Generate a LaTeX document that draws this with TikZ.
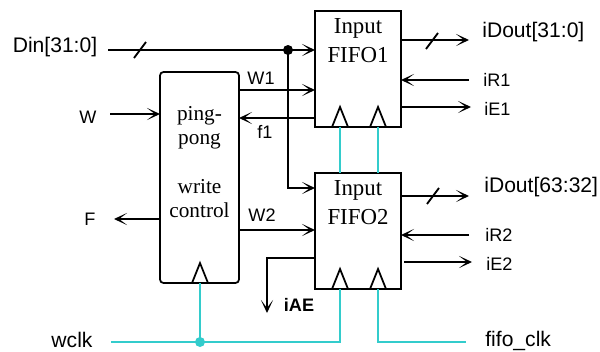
\documentclass[tikz,border=0pt]{standalone}
\usepackage{fontspec}
\setmainfont{Liberation Serif}
\setsansfont{Liberation Sans}
\usetikzlibrary{arrows.meta, calc}
\definecolor{clkteal}{RGB}{51, 204, 204}
\tikzset{
	sig/.style={line width=1.05pt},
	sigarrow/.style={sig,-{Stealth[length=7.5pt,width=7pt,inset=4.6pt]}},
	clkline/.style={line width=1.05pt,draw=clkteal},
	fifobox/.style={draw,line width=1pt,minimum width=17.2mm,minimum height=23.2mm,inner sep=0pt,outer sep=0pt},
	ctrlbox/.style={draw,line width=1pt,rounded corners=2pt,minimum width=15.8mm,minimum height=42.2mm,inner sep=0pt,outer sep=0pt},
	bigtext/.style={font=\fontsize{13}{16.5}\selectfont,align=center,inner sep=0pt},
	ctrltext/.style={font=\fontsize{12.1}{13.7}\selectfont,align=center,inner sep=0pt},
	portbig/.style={font=\sffamily\fontsize{12}{14}\selectfont,inner sep=0pt},
	portsmall/.style={font=\sffamily\fontsize{10.3}{12}\selectfont,inner sep=0pt}
}

\begin{document}
\begin{tikzpicture}[x=0.2mm,y=-0.2mm]
	\useasboundingbox (0,0) rectangle (600,351);
	% blocks
	\node[fifobox] (fifoa) at (358,69) {};
	\node[fifobox] (fifob) at (358,231) {};
	\node[ctrlbox] (ctrl) at (199.5,177.5) {};
	\node[bigtext] (fifoatext) at (358,41) {Input\\FIFO1};
	\node[bigtext] (fifobtext) at (358,203) {Input\\FIFO2};
	\node[ctrltext] (ctrltext) at (199.5,162) {ping-\\pong\\[13.7pt]write\\control};
	% port labels
	\node[portbig] (din) at (55,47) {Din[31:0]};
	\node[portsmall] (w) at (88,117) {W};
	\node[portsmall] (f) at (90,219) {F};
	\node[portbig] (wclk) at (72,340) {wclk};
	\node[portsmall] (wa) at (261,78) {W1};
	\node[portsmall] (fa) at (265,132) {f1};
	\node[portsmall] (wb) at (262,215) {W2};
	\node[portsmall,font=\sffamily\bfseries\fontsize{10.3}{12}\selectfont] (iae) at (299,305) {iAE};
	\node[portbig,anchor=west] (douta) at (482,32) {iDout[31:0]};
	\node[portsmall,anchor=west] (ira) at (483,80) {iR1};
	\node[portsmall,anchor=west] (iea) at (484,109) {iE1};
	\node[portbig,anchor=west] (doutb) at (484,187) {iDout[63:32]};
	\node[portsmall,anchor=west] (irb) at (485,235) {iR2};
	\node[portsmall,anchor=west] (ieb) at (486,264) {iE2};
	\node[portbig,anchor=west] (fifoclk) at (485,341) {fifo\_clk};
	% free ends
	\coordinate (dinend) at (108,50);
	\coordinate (dinjoin) at (288,50);
	\coordinate (wend) at (110,114);
	\coordinate (fend) at (114,219);
	\coordinate (waport) at (239,90);
	\coordinate (faport) at (239,118);
	\coordinate (dinb) at (288,188);
	\coordinate (wbport) at (239,230);
	\coordinate (iaeport) at (315,258);
	\coordinate (iaeend) at (267,313);
	\coordinate (outa) at (469,40);
	\coordinate (rda) at (469,80);
	\coordinate (ena) at (471,107);
	\coordinate (outb) at (469,196);
	\coordinate (rdb) at (469,235);
	\coordinate (enb) at (472,262);
	\coordinate (clkend) at (111,342);
	\coordinate (clkjoin) at (200,342);
	\coordinate (ckend) at (466,342);
	\coordinate (ctrlck) at (200,283);
	\coordinate (fifoaw) at (340,127);
	\coordinate (fifoar) at (378,127);
	\coordinate (fifobw) at (340,289);
	\coordinate (fifobr) at (378,289);
	% clocks
	\draw[clkline] (clkend) -- (clkjoin -| fifobw) -- (fifobw);
	\draw[clkline] (clkjoin) -- (ctrlck);
	\draw[clkline] (fifoaw) -- (fifobw |- fifob.north);
	\draw[clkline] (fifoar) -- (fifobr |- fifob.north);
	\draw[clkline] (fifobr) -- (fifobr |- ckend) -- (ckend);
	\fill[clkteal] (clkjoin) circle (5);
	% left side
	\draw[sigarrow] (dinend) -- (fifoa.west |- dinend);
	\draw[sigarrow] (dinjoin) -- (dinb) -- (fifob.west |- dinb);
	\fill (dinjoin) circle (5);
	\draw[sigarrow] (wend) -- (ctrl.west |- wend);
	\draw[sigarrow] (ctrl.west |- fend) -- (fend);
	\draw[sigarrow] (waport) -- (fifoa.west |- waport);
	\draw[sigarrow] (fifoa.west |- faport) -- (faport);
	\draw[sigarrow] (wbport) -- (fifob.west |- wbport);
	\draw[sigarrow] (iaeport) -- (iaeend |- iaeport) -- (iaeend);
	% right side
	\draw[sigarrow] (fifoa.east |- outa) -- (outa);
	\draw[sigarrow] (rda) -- (fifoa.east |- rda);
	\draw[sigarrow] (fifoa.east |- ena) -- (ena);
	\draw[sigarrow] (fifob.east |- outb) -- (outb);
	\draw[sigarrow] (rdb) -- (fifob.east |- rdb);
	\draw[sigarrow] ([xshift=0.6mm]fifob.east |- enb) -- (enb);
	% bus marks
	\foreach \x/\y in {140/50,432/41,433/196}
		\draw[sig] ({\x-6},{\y+8}) -- ({\x+6},{\y-8});
	% clock triangles
	\foreach \x/\y in {340/127,378/127,340/289,378/289,200/283}
		\draw[line width=1pt,line join=miter] ({\x-8},\y) -- (\x,{\y-20}) -- ({\x+8},\y);
\end{tikzpicture}
\end{document}
